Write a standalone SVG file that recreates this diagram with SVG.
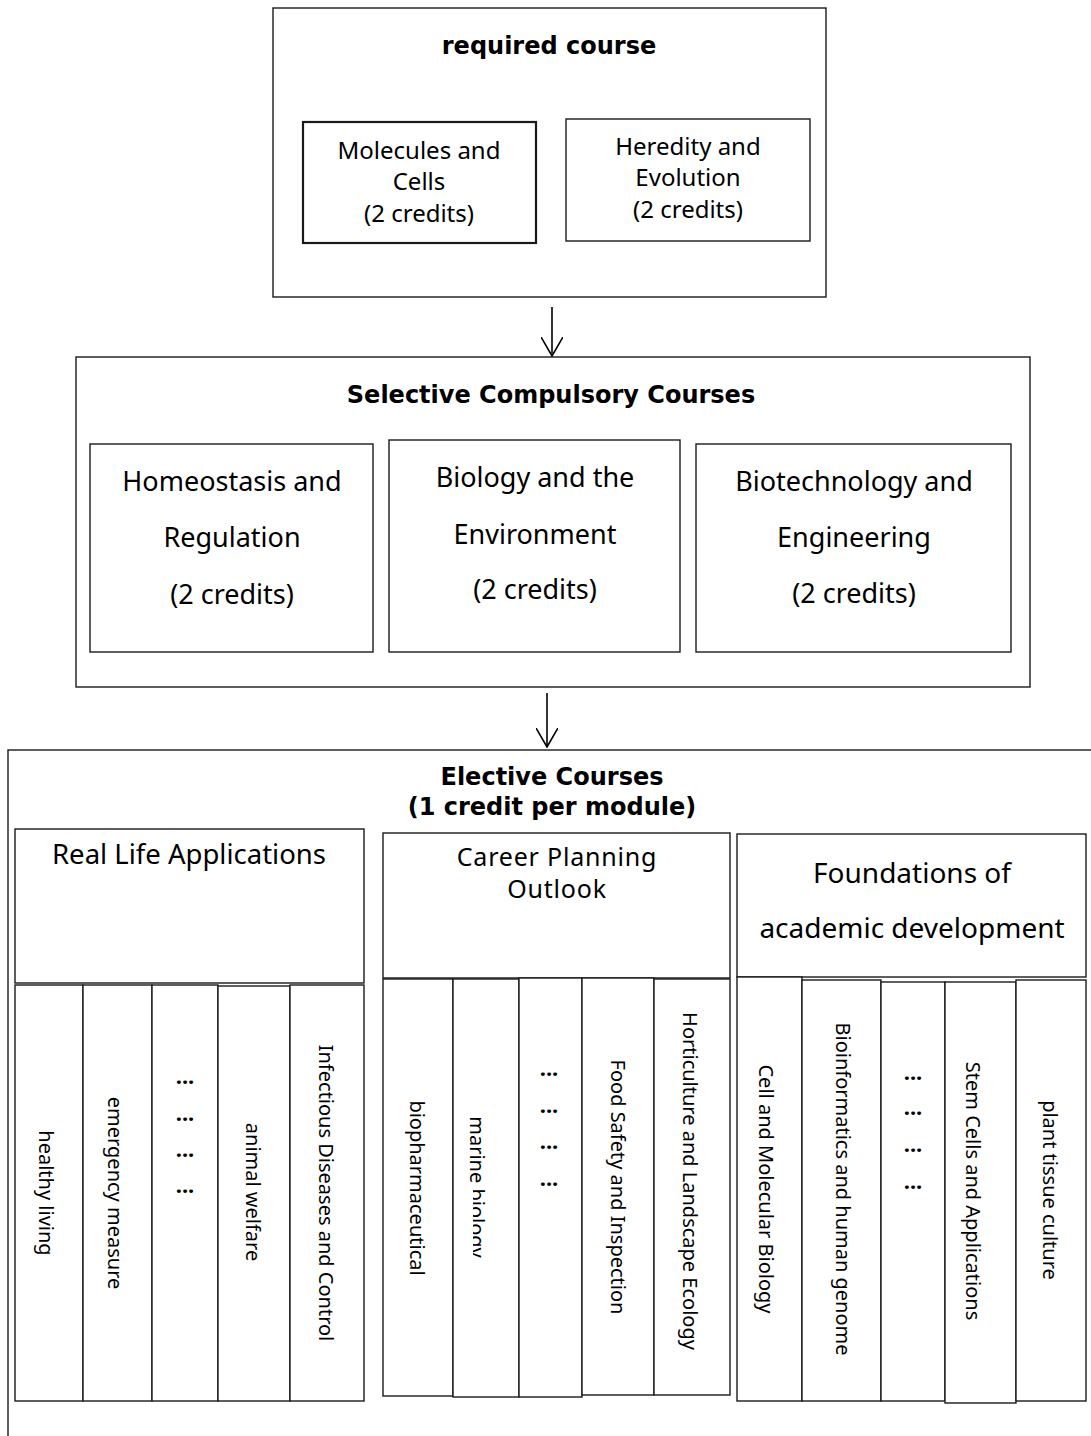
<svg xmlns="http://www.w3.org/2000/svg" width="1091" height="1436" viewBox="0 0 1091 1436">
<style>
.box{fill:#fff;stroke:#1a1a1a;stroke-width:1.4}
.thick{stroke-width:2.2}
.t{font-family:"Noto Sans","Open Sans",sans-serif;fill:#000;text-anchor:middle}
.b{font-family:"DejaVu Sans","Noto Sans",sans-serif;font-weight:bold;font-size:24px}
.v{font-size:20px;dominant-baseline:central}
.dots{font-family:"Noto Sans",sans-serif;font-weight:bold;font-size:22px;text-anchor:middle;fill:#000}
.conn{stroke:#000;stroke-width:1.6;fill:none}
</style>
<defs>
<marker id="arr" markerUnits="userSpaceOnUse" viewBox="0 0 20 22" refX="19" refY="11" markerWidth="20" markerHeight="22" orient="auto">
<path d="M0,0 L19,11 L0,22" fill="none" stroke="#000" stroke-width="1.6"/>
</marker>
<clipPath id="marineClip" clipPathUnits="userSpaceOnUse">
<rect x="440" y="1000" width="80" height="188"/>
<rect x="473" y="1188" width="47" height="200"/>
</clipPath>
</defs>
<rect width="1091" height="1436" fill="#fff"/>

<g id="required">
<rect class="box" x="273" y="8" width="553" height="289"/>
<text class="t b" x="549" y="54">required course</text>
</g>
<g id="molecules">
<rect class="box thick" x="303" y="122" width="233" height="121"/>
<text class="t" font-size="24"><tspan x="419" y="159">Molecules and</tspan><tspan x="419" y="190">Cells</tspan><tspan x="419" y="222">(2 credits)</tspan></text>
</g>
<g id="heredity">
<rect class="box" x="566" y="119" width="244" height="122"/>
<text class="t" font-size="24"><tspan x="688" y="155">Heredity and</tspan><tspan x="688" y="186">Evolution</tspan><tspan x="688" y="218">(2 credits)</tspan></text>
</g>

<g id="selective">
<rect class="box" x="76" y="357" width="954" height="330"/>
<text class="t b" x="551" y="403">Selective Compulsory Courses</text>
</g>
<g id="homeostasis">
<rect class="box" x="90" y="444" width="283" height="208"/>
<text class="t" font-size="27"><tspan x="232" y="491">Homeostasis and</tspan><tspan x="232" y="547">Regulation</tspan><tspan x="232" y="604">(2 credits)</tspan></text>
</g>
<g id="biology-env">
<rect class="box" x="389" y="440" width="291" height="212"/>
<text class="t" font-size="27"><tspan x="535" y="487">Biology and the</tspan><tspan x="535" y="544">Environment</tspan><tspan x="535" y="599">(2 credits)</tspan></text>
</g>
<g id="biotech">
<rect class="box" x="696" y="444" width="315" height="208"/>
<text class="t" font-size="27"><tspan x="854" y="491">Biotechnology and</tspan><tspan x="854" y="547">Engineering</tspan><tspan x="854" y="603">(2 credits)</tspan></text>
</g>

<g id="elective">
<rect class="box" x="8" y="750" width="1100" height="720"/>
<text class="t b" x="552" y="785">Elective Courses</text>
<text class="t b" x="552" y="815">(1 credit per module)</text>
</g>

<g id="real-life">
<rect class="box" x="15" y="829" width="349" height="154"/>
<text class="t" x="189" y="864" font-size="27.5">Real Life Applications</text>
</g>
<g id="rl-healthy"><rect class="box" x="15" y="985" width="68" height="416"/><text class="t v" transform="translate(46,1193) rotate(90)">healthy living</text></g>
<g id="rl-emergency"><rect class="box" x="83" y="985" width="69" height="416"/><text class="t v" transform="translate(115,1193) rotate(90)">emergency measure</text></g>
<g id="rl-more"><rect class="box" x="152" y="985" width="66" height="416"/>
<text class="dots" x="185" y="1084">...</text><text class="dots" x="185" y="1121">...</text><text class="dots" x="185" y="1157">...</text><text class="dots" x="185" y="1193">...</text></g>
<g id="rl-animal"><rect class="box" x="218" y="986" width="72" height="415"/><text class="t v" transform="translate(253,1192) rotate(90)">animal welfare</text></g>
<g id="rl-infectious"><rect class="box" x="290" y="985" width="74" height="416"/><text class="t v" transform="translate(326,1193) rotate(90)">Infectious Diseases and Control</text></g>

<g id="career">
<rect class="box" x="383" y="833" width="347" height="145"/>
<text class="t" font-size="25" letter-spacing="0.8"><tspan x="557" y="866">Career Planning</tspan><tspan x="557" y="898">Outlook</tspan></text>
</g>
<g id="cp-biopharm"><rect class="box" x="383" y="979" width="70" height="417"/><text class="t v" transform="translate(417,1188) rotate(90)">biopharmaceutical</text></g>
<g id="cp-marine"><rect class="box" x="453" y="979" width="66" height="418"/><g clip-path="url(#marineClip)"><text class="t v" transform="translate(477,1187) rotate(90)">marine biology</text></g></g>
<g id="cp-more"><rect class="box" x="519" y="978" width="63" height="419"/>
<text class="dots" x="549" y="1076">...</text><text class="dots" x="549" y="1113">...</text><text class="dots" x="549" y="1149">...</text><text class="dots" x="549" y="1186">...</text></g>
<g id="cp-food"><rect class="box" x="582" y="978" width="72" height="417"/><text class="t v" transform="translate(618,1187) rotate(90)">Food Safety and Inspection</text></g>
<g id="cp-horti"><rect class="box" x="654" y="979" width="76" height="416"/><text class="t v" transform="translate(690,1181) rotate(90)">Horticulture and Landscape Ecology</text></g>

<g id="foundations">
<rect class="box" x="737" y="834" width="349" height="143"/>
<text class="t" font-size="28"><tspan x="912" y="883">Foundations of</tspan><tspan x="912" y="938">academic development</tspan></text>
</g>
<g id="fd-cell"><rect class="box" x="737" y="977" width="65" height="424"/><text class="t v" transform="translate(766,1189) rotate(90)">Cell and Molecular Biology</text></g>
<g id="fd-bioinfo"><rect class="box" x="802" y="980" width="79" height="421"/><text class="t v" transform="translate(843,1189) rotate(90)">Bioinformatics and human genome</text></g>
<g id="fd-more"><rect class="box" x="881" y="982" width="64" height="419"/>
<text class="dots" x="913" y="1080">...</text><text class="dots" x="913" y="1115">...</text><text class="dots" x="913" y="1152">...</text><text class="dots" x="913" y="1189">...</text></g>
<g id="fd-stem"><rect class="box" x="945" y="982" width="71" height="421" stroke-width="1.9"/><text class="t v" transform="translate(973,1191) rotate(90)">Stem Cells and Applications</text></g>
<g id="fd-plant"><rect class="box" x="1016" y="980" width="70" height="421"/><text class="t v" transform="translate(1050,1190) rotate(90)">plant tissue culture</text></g>

<g id="connectors">
<line class="conn" x1="552" y1="307" x2="552" y2="356" marker-end="url(#arr)"/>
<line class="conn" x1="547" y1="693" x2="547" y2="747" marker-end="url(#arr)"/>
</g>
</svg>
